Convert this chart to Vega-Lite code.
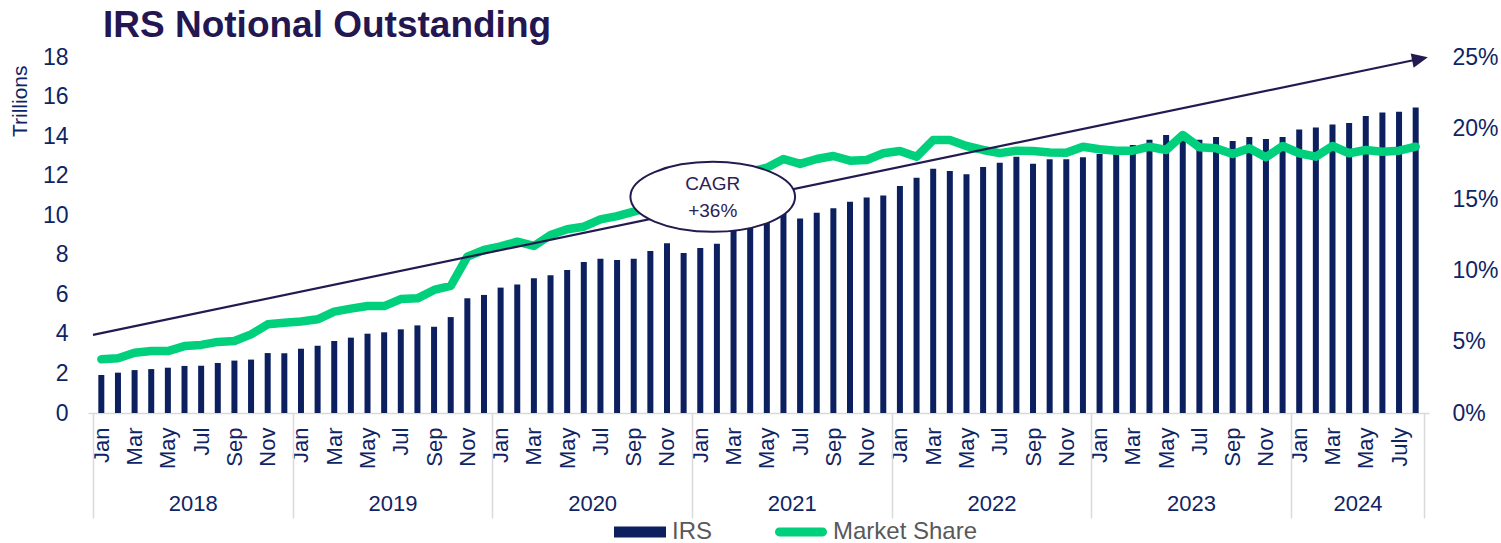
{
  "$schema": "https://vega.github.io/schema/vega-lite/v6.json",
  "width": 1341,
  "height": 356,
  "autosize": {"type": "none"},
  "padding": {"left": 88, "top": 57, "right": 72, "bottom": 130},
  "background": "white",
  "config": {"font": "Liberation Sans", "view": {"stroke": null}, "axis": {"grid": false}},
  "title": {"text": "IRS Notional Outstanding", "anchor": "start", "frame": "group", "dx": 15, "dy": 36, "offset": 8, "baseline": "alphabetic", "fontSize": 37, "fontWeight": "bold", "color": "#231651", "font": "Liberation Sans"},
  "datasets": {
    "monthly": [
      {"month": "2018-01", "i": 0, "irs": 1.92, "share": 0.0377},
      {"month": "2018-02", "i": 1, "irs": 2.04, "share": 0.0384},
      {"month": "2018-03", "i": 2, "irs": 2.17, "share": 0.0423},
      {"month": "2018-04", "i": 3, "irs": 2.22, "share": 0.0435},
      {"month": "2018-05", "i": 4, "irs": 2.29, "share": 0.0435},
      {"month": "2018-06", "i": 5, "irs": 2.38, "share": 0.0470},
      {"month": "2018-07", "i": 6, "irs": 2.39, "share": 0.0478},
      {"month": "2018-08", "i": 7, "irs": 2.53, "share": 0.0499},
      {"month": "2018-09", "i": 8, "irs": 2.65, "share": 0.0506},
      {"month": "2018-10", "i": 9, "irs": 2.70, "share": 0.0552},
      {"month": "2018-11", "i": 10, "irs": 3.03, "share": 0.0623},
      {"month": "2018-12", "i": 11, "irs": 3.02, "share": 0.0634},
      {"month": "2019-01", "i": 12, "irs": 3.25, "share": 0.0642},
      {"month": "2019-02", "i": 13, "irs": 3.40, "share": 0.0658},
      {"month": "2019-03", "i": 14, "irs": 3.64, "share": 0.0712},
      {"month": "2019-04", "i": 15, "irs": 3.81, "share": 0.0733},
      {"month": "2019-05", "i": 16, "irs": 4.01, "share": 0.0751},
      {"month": "2019-06", "i": 17, "irs": 4.08, "share": 0.0751},
      {"month": "2019-07", "i": 18, "irs": 4.23, "share": 0.0800},
      {"month": "2019-08", "i": 19, "irs": 4.43, "share": 0.0805},
      {"month": "2019-09", "i": 20, "irs": 4.36, "share": 0.0864},
      {"month": "2019-10", "i": 21, "irs": 4.85, "share": 0.0892},
      {"month": "2019-11", "i": 22, "irs": 5.80, "share": 0.1098},
      {"month": "2019-12", "i": 23, "irs": 5.97, "share": 0.1145},
      {"month": "2020-01", "i": 24, "irs": 6.34, "share": 0.1170},
      {"month": "2020-02", "i": 25, "irs": 6.50, "share": 0.1203},
      {"month": "2020-03", "i": 26, "irs": 6.81, "share": 0.1173},
      {"month": "2020-04", "i": 27, "irs": 6.96, "share": 0.1250},
      {"month": "2020-05", "i": 28, "irs": 7.23, "share": 0.1290},
      {"month": "2020-06", "i": 29, "irs": 7.63, "share": 0.1308},
      {"month": "2020-07", "i": 30, "irs": 7.80, "share": 0.1360},
      {"month": "2020-08", "i": 31, "irs": 7.73, "share": 0.1383},
      {"month": "2020-09", "i": 32, "irs": 7.80, "share": 0.1414},
      {"month": "2020-10", "i": 33, "irs": 8.19, "share": 0.1450},
      {"month": "2020-11", "i": 34, "irs": 8.58, "share": 0.1490},
      {"month": "2020-12", "i": 35, "irs": 8.09, "share": 0.1530},
      {"month": "2021-01", "i": 36, "irs": 8.34, "share": 0.1580},
      {"month": "2021-02", "i": 37, "irs": 8.56, "share": 0.1620},
      {"month": "2021-03", "i": 38, "irs": 9.25, "share": 0.1660},
      {"month": "2021-04", "i": 39, "irs": 9.45, "share": 0.1695},
      {"month": "2021-05", "i": 40, "irs": 9.65, "share": 0.1723},
      {"month": "2021-06", "i": 41, "irs": 10.06, "share": 0.1784},
      {"month": "2021-07", "i": 42, "irs": 9.84, "share": 0.1749},
      {"month": "2021-08", "i": 43, "irs": 10.13, "share": 0.1784},
      {"month": "2021-09", "i": 44, "irs": 10.35, "share": 0.1805},
      {"month": "2021-10", "i": 45, "irs": 10.68, "share": 0.1772},
      {"month": "2021-11", "i": 46, "irs": 10.90, "share": 0.1777},
      {"month": "2021-12", "i": 47, "irs": 11.00, "share": 0.1824},
      {"month": "2022-01", "i": 48, "irs": 11.48, "share": 0.1840},
      {"month": "2022-02", "i": 49, "irs": 11.90, "share": 0.1800},
      {"month": "2022-03", "i": 50, "irs": 12.35, "share": 0.1917},
      {"month": "2022-04", "i": 51, "irs": 12.23, "share": 0.1917},
      {"month": "2022-05", "i": 52, "irs": 12.07, "share": 0.1875},
      {"month": "2022-06", "i": 53, "irs": 12.44, "share": 0.1847},
      {"month": "2022-07", "i": 54, "irs": 12.65, "share": 0.1825},
      {"month": "2022-08", "i": 55, "irs": 12.96, "share": 0.1842},
      {"month": "2022-09", "i": 56, "irs": 12.60, "share": 0.1840},
      {"month": "2022-10", "i": 57, "irs": 12.83, "share": 0.1830},
      {"month": "2022-11", "i": 58, "irs": 12.83, "share": 0.1827},
      {"month": "2022-12", "i": 59, "irs": 12.93, "share": 0.1870},
      {"month": "2023-01", "i": 60, "irs": 13.10, "share": 0.1852},
      {"month": "2023-02", "i": 61, "irs": 13.15, "share": 0.1842},
      {"month": "2023-03", "i": 62, "irs": 13.55, "share": 0.1842},
      {"month": "2023-04", "i": 63, "irs": 13.82, "share": 0.1870},
      {"month": "2023-05", "i": 64, "irs": 14.05, "share": 0.1847},
      {"month": "2023-06", "i": 65, "irs": 14.15, "share": 0.1952},
      {"month": "2023-07", "i": 66, "irs": 13.82, "share": 0.1866},
      {"month": "2023-08", "i": 67, "irs": 13.95, "share": 0.1859},
      {"month": "2023-09", "i": 68, "irs": 13.75, "share": 0.1819},
      {"month": "2023-10", "i": 69, "irs": 13.95, "share": 0.1859},
      {"month": "2023-11", "i": 70, "irs": 13.85, "share": 0.1796},
      {"month": "2023-12", "i": 71, "irs": 13.95, "share": 0.1875},
      {"month": "2024-01", "i": 72, "irs": 14.34, "share": 0.1824},
      {"month": "2024-02", "i": 73, "irs": 14.44, "share": 0.1800},
      {"month": "2024-03", "i": 74, "irs": 14.59, "share": 0.1875},
      {"month": "2024-04", "i": 75, "irs": 14.66, "share": 0.1824},
      {"month": "2024-05", "i": 76, "irs": 15.02, "share": 0.1847},
      {"month": "2024-06", "i": 77, "irs": 15.20, "share": 0.1835},
      {"month": "2024-07", "i": 78, "irs": 15.23, "share": 0.1842},
      {"month": "2024-08", "i": 79, "irs": 15.45, "share": 0.1870}
    ],
    "arrow": [
      {"x": -0.5, "y": 3.95},
      {"x": 79.0, "y": 17.86}
    ],
    "arrowhead": [
      {"x": 79.26, "y": 17.9}
    ],
    "note": [
      {"x": 36.75, "y": 10.93, "label": "CAGR\n+36%"}
    ]
  },
  "layer": [
    {
      "data": {"name": "monthly"},
      "mark": {"type": "bar", "orient": "vertical", "width": 6},
      "encoding": {
        "x": {"field": "i", "type": "quantitative", "scale": {"domain": [-0.5, 79.5], "nice": false, "zero": false},
          "axis": {"orient": "bottom", "values": [0,2,4,6,8,10,12,14,16,18,20,22,24,26,28,30,32,34,36,38,40,42,44,46,48,50,52,54,56,58,60,62,64,66,68,70,72,74,76,78],
            "labelExpr": "datum.value == 78 ? 'July' : ['Jan','Feb','Mar','Apr','May','Jun','Jul','Aug','Sep','Oct','Nov','Dec'][datum.value % 12]",
            "labelAngle": 270, "labelFontSize": 22, "labelColor": "#0f2464", "labelPadding": 14, "labelFlush": false, "labelOverlap": false,
            "ticks": false, "tickSize": 0, "domain": true, "domainColor": "#d9d9d9", "domainWidth": 1.5, "grid": false, "title": null}},
        "y": {"field": "irs", "type": "quantitative", "stack": null, "scale": {"domain": [0, 18], "nice": false},
          "axis": {"values": [0,2,4,6,8,10,12,14,16,18], "ticks": false, "tickSize": 0, "domain": false, "grid": false,
            "labelPadding": 20, "labelFontSize": 23, "labelColor": "#0f2464",
            "title": "Trillions", "titleFontSize": 21, "titleFontWeight": "normal", "titleColor": "#0f2464",
            "titleAngle": 270, "titleX": -68, "titleY": 8, "titleAlign": "right", "titleBaseline": "middle"}},
        "color": {"datum": "IRS", "scale": {"domain": ["IRS", "Market Share"], "range": ["#0c1f5e", "#00d07b"]},
          "legend": {"orient": "none", "legendX": 526, "legendY": 449, "direction": "horizontal", "title": null,
            "labelFontSize": 24, "labelColor": "#595959", "labelOffset": 6, "columnPadding": 62, "padding": 0,
            "symbolType": "M-1,-0.21H1V0.21H-1Z", "symbolSize": 2704, "symbolStrokeWidth": 0,
            "encode": {"symbols": {"update": {
              "fill": {"scale": "color", "field": "value"},
              "stroke": {"value": "transparent"},
              "opacity": {"value": 1},
              "shape": {"signal": "datum.value === 'IRS' ? 'M-1,-0.21H1V0.21H-1Z' : 'M-0.83,-0.17H0.83C0.93,-0.17 1,-0.09 1,0C1,0.09 0.93,0.17 0.83,0.17H-0.83C-0.93,0.17 -1,0.09 -1,0C-1,-0.09 -0.93,-0.17 -0.83,-0.17Z'"}
            }}}}}
      }
    },
    {
      "data": {"name": "monthly"},
      "mark": {"type": "line", "strokeWidth": 8.5, "strokeJoin": "round", "strokeCap": "round"},
      "encoding": {
        "x": {"field": "i", "type": "quantitative", "scale": {"domain": [-0.5, 79.5], "nice": false, "zero": false},
          "axis": {"orient": "bottom", "values": [5.5, 17.5, 29.5, 41.5, 53.5, 65.5, 75.5],
            "labelExpr": "toString(2018 + floor(datum.value / 12))",
            "labelAngle": 0, "labelFontSize": 22, "labelColor": "#0f2464", "labelPadding": 80, "labelFlush": false, "labelOverlap": false,
            "ticks": false, "tickSize": 0, "domain": false, "grid": false, "title": null}},
        "y": {"field": "share", "type": "quantitative", "scale": {"domain": [0, 0.25], "nice": false},
          "axis": {"orient": "right", "values": [0, 0.05, 0.1, 0.15, 0.2, 0.25], "format": ".0%", "ticks": false, "tickSize": 0, "domain": false, "grid": false,
            "labelPadding": 23, "labelFontSize": 23, "labelColor": "#0f2464", "title": null}},
        "color": {"datum": "Market Share"}
      }
    },
    {
      "data": {"name": "arrow"},
      "mark": {"type": "line", "color": "#231a50", "strokeWidth": 2.2},
      "encoding": {
        "x": {"field": "x", "type": "quantitative", "scale": {"domain": [-0.5, 79.5], "nice": false, "zero": false},
          "axis": {"orient": "bottom", "values": [-0.5, 11.5, 23.5, 35.5, 47.5, 59.5, 71.5, 79.5],
            "labels": false, "ticks": true, "tickSize": 105, "tickColor": "#d9d9d9", "tickWidth": 1.5, "domain": false, "grid": false, "title": null}},
        "y": {"field": "y", "type": "quantitative", "scale": {"domain": [0, 18], "nice": false}, "axis": null}
      }
    },
    {
      "data": {"name": "arrowhead"},
      "mark": {"type": "point", "filled": true, "opacity": 1, "color": "#231a50", "size": 256, "angle": 348.3,
        "shape": "M1,0L-1,-0.9L-1,0.9Z"},
      "encoding": {
        "x": {"field": "x", "type": "quantitative", "scale": {"domain": [-0.5, 79.5], "nice": false, "zero": false}, "axis": null},
        "y": {"field": "y", "type": "quantitative", "scale": {"domain": [0, 18], "nice": false}, "axis": null}
      }
    },
    {
      "data": {"name": "note"},
      "mark": {"type": "point", "filled": false, "opacity": 1, "fill": "white", "fillOpacity": 1, "stroke": "#231a50", "strokeWidth": 2, "size": 27126,
        "shape": "M1,0C1,0.2347 0.5523,0.425 0,0.425C-0.5523,0.425 -1,0.2347 -1,0C-1,-0.2347 -0.5523,-0.425 0,-0.425C0.5523,-0.425 1,-0.2347 1,0Z"},
      "encoding": {
        "x": {"field": "x", "type": "quantitative", "scale": {"domain": [-0.5, 79.5], "nice": false, "zero": false}, "axis": null},
        "y": {"field": "y", "type": "quantitative", "scale": {"domain": [0, 18], "nice": false}, "axis": null}
      }
    },
    {
      "data": {"name": "note"},
      "mark": {"type": "text", "fontSize": 19, "lineHeight": 27, "lineBreak": "\n", "dy": -13, "color": "#2b2256", "align": "center", "baseline": "middle", "font": "Liberation Sans"},
      "encoding": {
        "x": {"field": "x", "type": "quantitative", "scale": {"domain": [-0.5, 79.5], "nice": false, "zero": false}, "axis": null},
        "y": {"field": "y", "type": "quantitative", "scale": {"domain": [0, 18], "nice": false}, "axis": null},
        "text": {"field": "label"}
      }
    }
  ],
  "resolve": {"scale": {"y": "independent"}, "axis": {"x": "independent"}}
}
